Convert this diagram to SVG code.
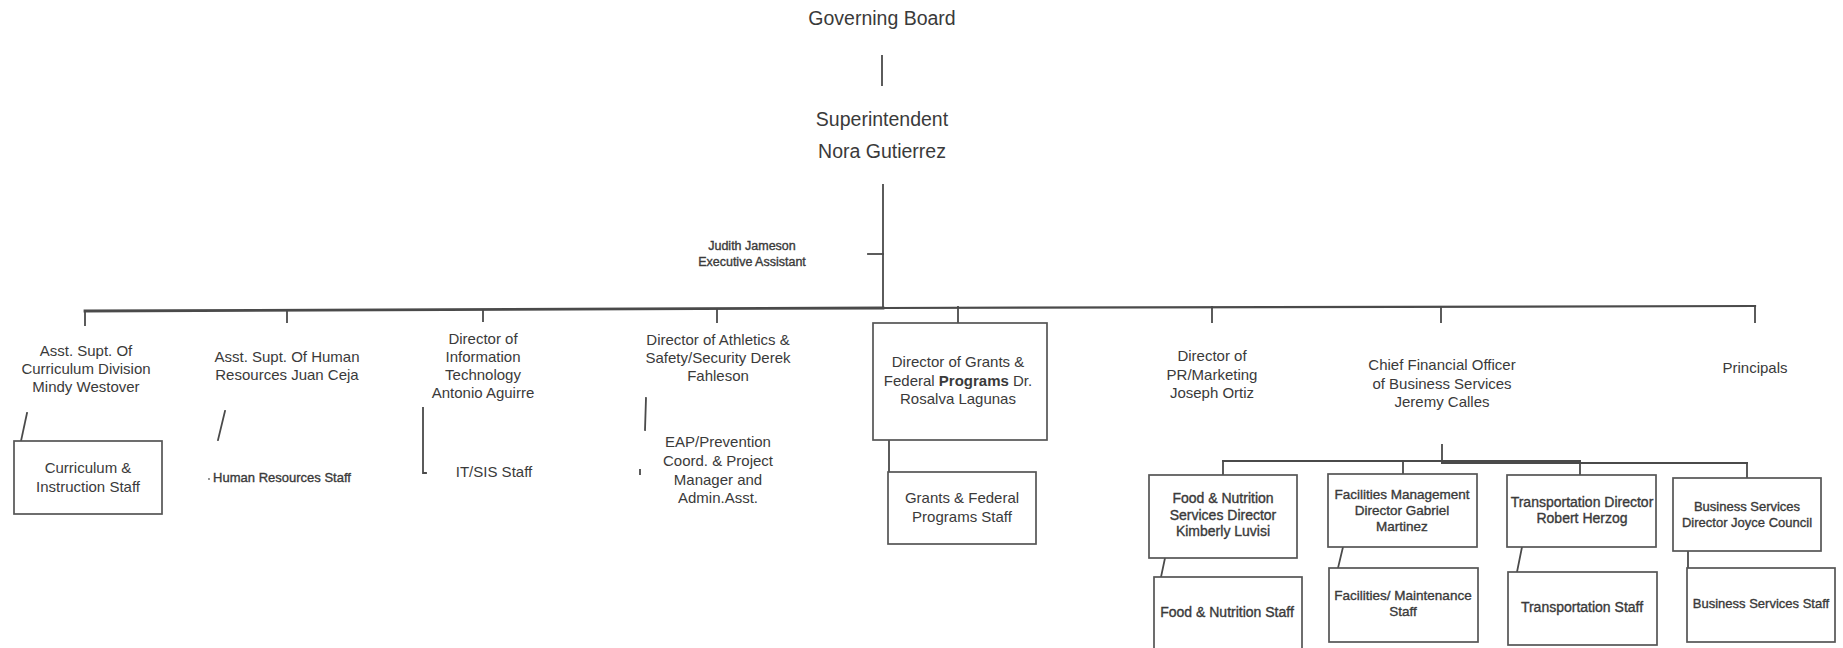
<svg xmlns="http://www.w3.org/2000/svg" width="1843" height="648" viewBox="0 0 1843 648">
<style>
.t{font-family:"Liberation Sans",Arial,sans-serif;fill:#3a3a3a;text-anchor:middle;font-size:15px}
.l{font-size:19.5px}
.m{font-size:14px}
.sm{font-size:13px}
.sb{stroke:#3a3a3a;stroke-width:0.35}
.ln{stroke:#4a4a4a;stroke-width:1.8;fill:none;stroke-linecap:square}
.bx{fill:#fff;stroke:#555;stroke-width:1.7}
</style>
<rect width="1843" height="648" fill="#fff"/>
<g id="connectors">
<line class="ln" x1="882" y1="56" x2="882" y2="85"/>
<line class="ln" x1="883" y1="185" x2="883" y2="308"/>
<line class="ln" x1="868" y1="254" x2="883" y2="254"/>
<path class="ln" style="stroke-width:2.8" d="M85,311 L883,308"/>
<path class="ln" style="stroke-width:2.2" d="M883,308 L1755,306"/>
<line class="ln" x1="85" y1="311" x2="85" y2="325"/>
<line class="ln" x1="287" y1="311" x2="287" y2="322"/>
<line class="ln" x1="483" y1="310" x2="483" y2="321"/>
<line class="ln" x1="717" y1="310" x2="717" y2="322"/>
<line class="ln" x1="958" y1="307" x2="958" y2="323"/>
<line class="ln" x1="1212" y1="307" x2="1212" y2="322"/>
<line class="ln" x1="1441" y1="307" x2="1441" y2="322"/>
<line class="ln" x1="1755" y1="306" x2="1755" y2="322"/>
<line class="ln" x1="27" y1="413" x2="21" y2="441"/>
<line class="ln" x1="225" y1="411" x2="218" y2="440"/>
<path class="ln" d="M423,408 L423,473 L426,473"/>
<line class="ln" x1="646" y1="398" x2="645" y2="430"/>
<line class="ln" x1="640" y1="470" x2="640" y2="474"/>
<line class="ln" x1="889" y1="440" x2="889" y2="472"/>
<line class="ln" x1="1442" y1="445" x2="1442" y2="463"/>
<line class="ln" x1="1223" y1="461" x2="1580" y2="461"/>
<line class="ln" x1="1442" y1="463" x2="1747" y2="463"/>
<line class="ln" x1="1223" y1="461" x2="1223" y2="475"/>
<line class="ln" x1="1403" y1="461" x2="1403" y2="474"/>
<line class="ln" x1="1580" y1="461" x2="1580" y2="475"/>
<line class="ln" x1="1747" y1="463" x2="1747" y2="478"/>
<line class="ln" x1="1165" y1="558" x2="1161" y2="577"/>
<line class="ln" x1="1343" y1="547" x2="1338" y2="568"/>
<line class="ln" x1="1522" y1="547" x2="1517" y2="572"/>
<line class="ln" x1="1688" y1="551" x2="1688" y2="575"/>
</g>
<g id="governing-board"><text class="t l" x="882" y="25">Governing Board</text></g>
<g id="superintendent"><text class="t l" x="882" y="126">Superintendent</text><text class="t l" x="882" y="158">Nora Gutierrez</text></g>
<g id="exec-assistant"><text class="t sb" style="font-size:12.5px" x="752" y="250">Judith Jameson</text><text class="t sb" style="font-size:12.5px" x="752" y="266">Executive Assistant</text></g>
<g id="curriculum"><text class="t" x="86" y="356">Asst. Supt. Of</text><text class="t" x="86" y="374">Curriculum Division</text><text class="t" x="86" y="392">Mindy Westover</text></g>
<g id="curriculum-staff"><rect class="bx" x="14" y="441" width="148" height="73"/><text class="t" x="88" y="473">Curriculum &amp;</text><text class="t" x="88" y="492">Instruction Staff</text></g>
<g id="hr"><text class="t" x="287" y="362">Asst. Supt. Of Human</text><text class="t" x="287" y="380">Resources Juan Ceja</text></g>
<g id="hr-staff"><circle cx="209" cy="479" r="0.9" fill="#666"/><text class="t sm sb" x="282" y="482">Human Resources Staff</text></g>
<g id="it"><text class="t" x="483" y="344">Director of</text><text class="t" x="483" y="362">Information</text><text class="t" x="483" y="380">Technology</text><text class="t" x="483" y="398">Antonio Aguirre</text></g>
<g id="it-staff"><text class="t" x="494" y="477">IT/SIS Staff</text></g>
<g id="athletics"><text class="t" x="718" y="345">Director of Athletics &amp;</text><text class="t" x="718" y="363">Safety/Security Derek</text><text class="t" x="718" y="381">Fahleson</text></g>
<g id="eap"><text class="t" x="718" y="447">EAP/Prevention</text><text class="t" x="718" y="466">Coord. &amp; Project</text><text class="t" x="718" y="485">Manager and</text><text class="t" x="718" y="503">Admin.Asst.</text></g>
<g id="grants"><rect class="bx" x="873" y="323" width="174" height="117"/><text class="t" x="958" y="367">Director of Grants &amp;</text><text class="t" x="958" y="386">Federal <tspan font-weight="bold">Programs</tspan> Dr.</text><text class="t" x="958" y="404">Rosalva Lagunas</text></g>
<g id="grants-staff"><rect class="bx" x="888" y="472" width="148" height="72"/><text class="t" x="962" y="503">Grants &amp; Federal</text><text class="t" x="962" y="522">Programs Staff</text></g>
<g id="pr"><text class="t" x="1212" y="361">Director of</text><text class="t" x="1212" y="380">PR/Marketing</text><text class="t" x="1212" y="398">Joseph Ortiz</text></g>
<g id="cfo"><text class="t" x="1442" y="370">Chief Financial Officer</text><text class="t" x="1442" y="389">of Business Services</text><text class="t" x="1442" y="407">Jeremy Calles</text></g>
<g id="principals"><text class="t" x="1755" y="373">Principals</text></g>
<g id="food"><rect class="bx" x="1149" y="475" width="148" height="83"/><text class="t m sb" x="1223" y="503">Food &amp; Nutrition</text><text class="t m sb" x="1223" y="520">Services Director</text><text class="t m sb" x="1223" y="536">Kimberly Luvisi</text></g>
<g id="food-staff"><rect class="bx" x="1154" y="577" width="148" height="90"/><text class="t m sb" x="1227" y="617">Food &amp; Nutrition Staff</text></g>
<g id="facilities"><rect class="bx" x="1328" y="474" width="149" height="73"/><text class="t sb" style="font-size:13.5px" x="1402" y="499">Facilities Management</text><text class="t sb" style="font-size:13.5px" x="1402" y="515">Director Gabriel</text><text class="t sb" style="font-size:13.5px" x="1402" y="531">Martinez</text></g>
<g id="facilities-staff"><rect class="bx" x="1329" y="568" width="149" height="74"/><text class="t sb" style="font-size:13.5px" x="1403" y="600">Facilities/ Maintenance</text><text class="t sb" style="font-size:13.5px" x="1403" y="616">Staff</text></g>
<g id="transportation"><rect class="bx" x="1507" y="475" width="149" height="72"/><text class="t m sb" x="1582" y="507">Transportation Director</text><text class="t m sb" x="1582" y="523">Robert Herzog</text></g>
<g id="transportation-staff"><rect class="bx" x="1508" y="572" width="149" height="73"/><text class="t m sb" x="1582" y="612">Transportation Staff</text></g>
<g id="business"><rect class="bx" x="1673" y="478" width="148" height="73"/><text class="t sm sb" x="1747" y="511">Business Services</text><text class="t sm sb" x="1747" y="527">Director Joyce Council</text></g>
<g id="business-staff"><rect class="bx" x="1687" y="568" width="148" height="74"/><text class="t sm sb" x="1761" y="608">Business Services Staff</text></g>
</svg>
